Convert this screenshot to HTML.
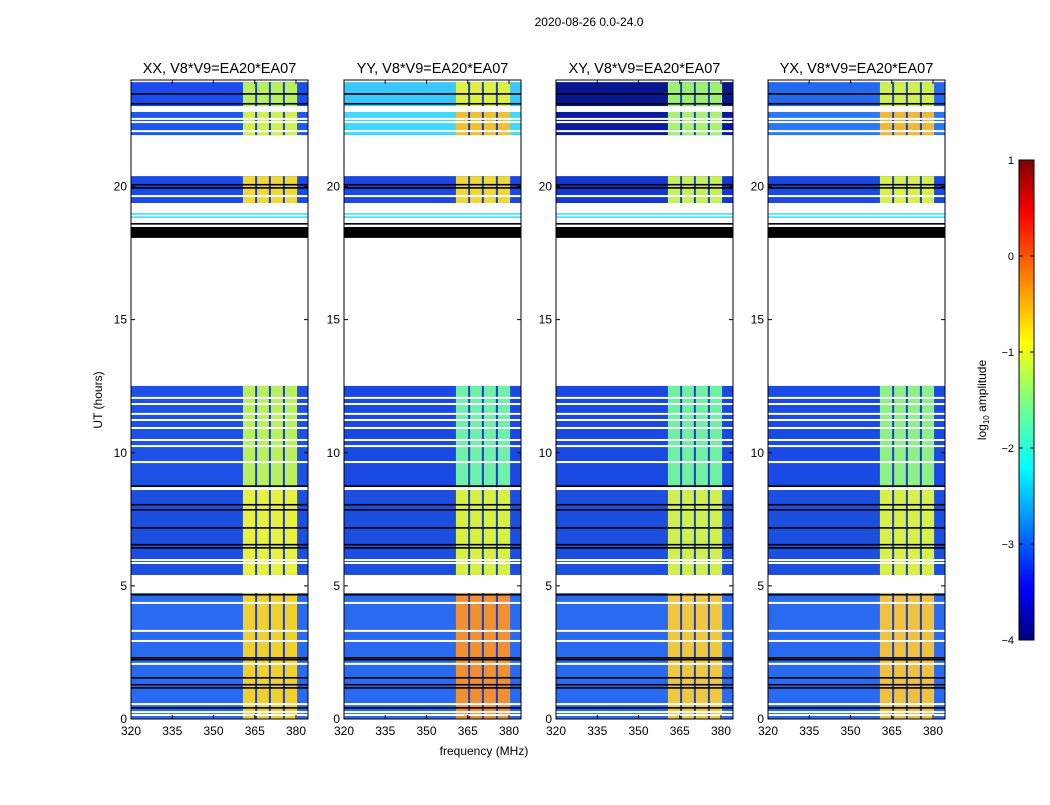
<!DOCTYPE html>
<html><head><meta charset="utf-8">
<style>
body{margin:0;background:#fff;font-family:"Liberation Sans","DejaVu Sans",sans-serif;}
svg text{font-family:"Liberation Sans","DejaVu Sans",sans-serif;}
</style></head>
<body>
<svg id="fig" width="1050" height="800" xmlns="http://www.w3.org/2000/svg">
<defs>
<linearGradient id="jet" x1="0" y1="1" x2="0" y2="0">
<stop offset="0" stop-color="#00007f"/><stop offset="0.11" stop-color="#0000ff"/>
<stop offset="0.36" stop-color="#00ffff"/><stop offset="0.5" stop-color="#80ff80"/>
<stop offset="0.62" stop-color="#ffff00"/><stop offset="0.89" stop-color="#ff0000"/>
<stop offset="1" stop-color="#7f0000"/></linearGradient>
</defs>
<text x="589" y="26" font-size="12" text-anchor="middle">2020-08-26 0.0-24.0</text>
<g id="panels"></g>
<g id="cbar"></g>
</svg>
<script>
const panelNames = ["XX","YY","XY","YX"];
const panelLeft = [131,344,556,768];
const freqTicks = [320,335,350,365,380];
const hourTicks = [0,5,10,15,20];
// data segments in UT hours [start,end]
const segStart = [0, 5.41, 8.71, 19.38, 21.93, 23.02];
const segEnd   = [4.73, 8.60, 12.51, 20.39, 22.80, 23.92];
// base colour per panel per segment
const baseColors = [
 ["#2a6af0","#1c4fe0","#1c50e6","#1a4ae8","#1d58ee","#1a4cf0"],
 ["#2a6af0","#1c4fe0","#1a48e2","#1a48e0","#40d8ff","#38c8ff"],
 ["#2a6af0","#1c4fe0","#1a48e2","#1238d0","#0a1aa0","#081690"],
 ["#2a6af0","#1c4fe0","#1a4ae6","#1a48e0","#2a78f4","#2468f0"]];
const bandColors = [
 ["#f0d030","#e8f040","#b8f060","#f0d838","#d0f050","#b8f060"],
 ["#f09030","#d8f040","#70f0a8","#f0d838","#f0c030","#e0f040"],
 ["#f0c840","#d0f050","#70f0a0","#c8f058","#a8f070","#a0f070"],
 ["#f0c040","#d8f048","#90f088","#d8f048","#f0b838","#d0f050"]];
const bandLo = 360.7, bandHi = 380.4;
const bandLines = [365.5,370.5,375.6];
const whiteLines = [4.36,3.31,2.93,2.07,0.56,0.26,0.15,5.97,5.86,12.06,11.83,11.46,11.23,10.93,10.48,10.25,9.65,22.54,22.42,22.08,19.64];
const blackLines = [4.66,2.29,2.22,1.54,1.28,1.16,0.41,8.04,7.85,7.17,6.54,6.42,8.74,23.47,23.10,20.06,19.94,18.59];
const cyanLines = [18.97,18.85];
const blackBlock = [18.07,18.48];
const cbTicks = [1,0,-1,-2,-3,-4];

const NS="http://www.w3.org/2000/svg";
const T=80,B=719,W=177;
function yH(h){return B-(B-T)*h/24;}
function xF(left,f){return left+(f-320)*2.75;}
function mk(tag,attrs,parent){const e=document.createElementNS(NS,tag);for(const k in attrs)e.setAttribute(k,attrs[k]);parent.appendChild(e);return e;}
const root=document.getElementById('panels');
panelNames.forEach((nm,p)=>{
 const L=panelLeft[p];
 const g=mk('g',{},root);
 
 
 for(let s=0;s<segStart.length;s++){
  const y1=yH(segEnd[s]),y2=yH(segStart[s]);
  const r=mk('rect',{x:L,y:y1,width:W,height:y2-y1,fill:baseColors[p][s]},g);
  
  
  const bx=xF(L,bandLo),bw=xF(L,bandHi)-bx;
  const b=mk('rect',{x:bx,y:y1,width:bw,height:y2-y1,fill:bandColors[p][s]},g);
  
  
  bandLines.forEach(f=>{mk('rect',{x:xF(L,f)-1,y:y1,width:2,height:y2-y1,fill:'#1840c8'},g);});
 }
 whiteLines.forEach(h=>mk('rect',{x:L,y:yH(h)-1,width:W,height:2,fill:'#fff'},g));
 blackLines.forEach(h=>mk('rect',{x:L,y:yH(h)-1,width:W,height:1.6,fill:'#000'},g));
 cyanLines.forEach(h=>mk('rect',{x:L,y:yH(h)-0.8,width:W,height:1.6,fill:'#40e0ff'},g));
 mk('rect',{x:L,y:yH(blackBlock[1]),width:W,height:yH(blackBlock[0])-yH(blackBlock[1]),fill:'#000'},g);
 const fr=mk('rect',{x:L,y:T,width:W,height:B-T,fill:'none',stroke:'#000','stroke-width':1},g);
 
 
 const t=mk('text',{x:L+W/2,y:73,'font-size':14.5,'text-anchor':'middle'},g);
 t.textContent=nm+', V8*V9=EA20*EA07';
 
 
 freqTicks.forEach(f=>{
  const x=xF(L,f);
  mk('line',{x1:x,x2:x,y1:B,y2:B-4,stroke:'#000'},g);
  mk('line',{x1:x,x2:x,y1:T,y2:T+4,stroke:'#000'},g);
  const tt=mk('text',{x:x,y:B+16,'font-size':12,'text-anchor':'middle'},g);
  tt.textContent=f;
  
  
 });
 hourTicks.forEach(h=>{
  const y=yH(h);
  mk('line',{x1:L,x2:L+4,y1:y,y2:y,stroke:'#000'},g);
  mk('line',{x1:L+W,x2:L+W-4,y1:y,y2:y,stroke:'#000'},g);
  const tt=mk('text',{x:L-4,y:y+4,'font-size':12,'text-anchor':'end'},g);
  tt.textContent=h;
  
  
 });
});
const xl=mk('text',{x:484,y:755,'font-size':12,'text-anchor':'middle'},root);
xl.textContent='frequency (MHz)';


const yl=mk('text',{x:102,y:400,'font-size':12,'text-anchor':'middle',transform:'rotate(-90 102 400)'},root);
yl.textContent='UT (hours)';


// colorbar
const cb=document.getElementById('cbar');
const CT=160,CB=640,CL=1019,CW=15;
const bar=mk('rect',{x:CL,y:CT,width:CW,height:CB-CT,fill:'url(#jet)',stroke:'#000'},cb);


cbTicks.forEach(v=>{
 const y=CT+(1-v)/5*(CB-CT);
 mk('line',{x1:CL,x2:CL+4,y1:y,y2:y,stroke:'#000'},cb);
 mk('line',{x1:CL+CW,x2:CL+CW-4,y1:y,y2:y,stroke:'#000'},cb);
 const tt=mk('text',{x:CL-5,y:y+4,'font-size':11,'text-anchor':'end'},cb);
 tt.textContent=v<0?'\u2212'+(-v):String(v);
 
 
});
const cl=mk('text',{x:986,y:400,'font-size':12,'text-anchor':'middle',transform:'rotate(-90 986 400)'},cb);
cl.innerHTML='log<tspan font-size="8" dy="3">10</tspan><tspan dy="-3"> amplitude</tspan>';


</script>
</body></html>
